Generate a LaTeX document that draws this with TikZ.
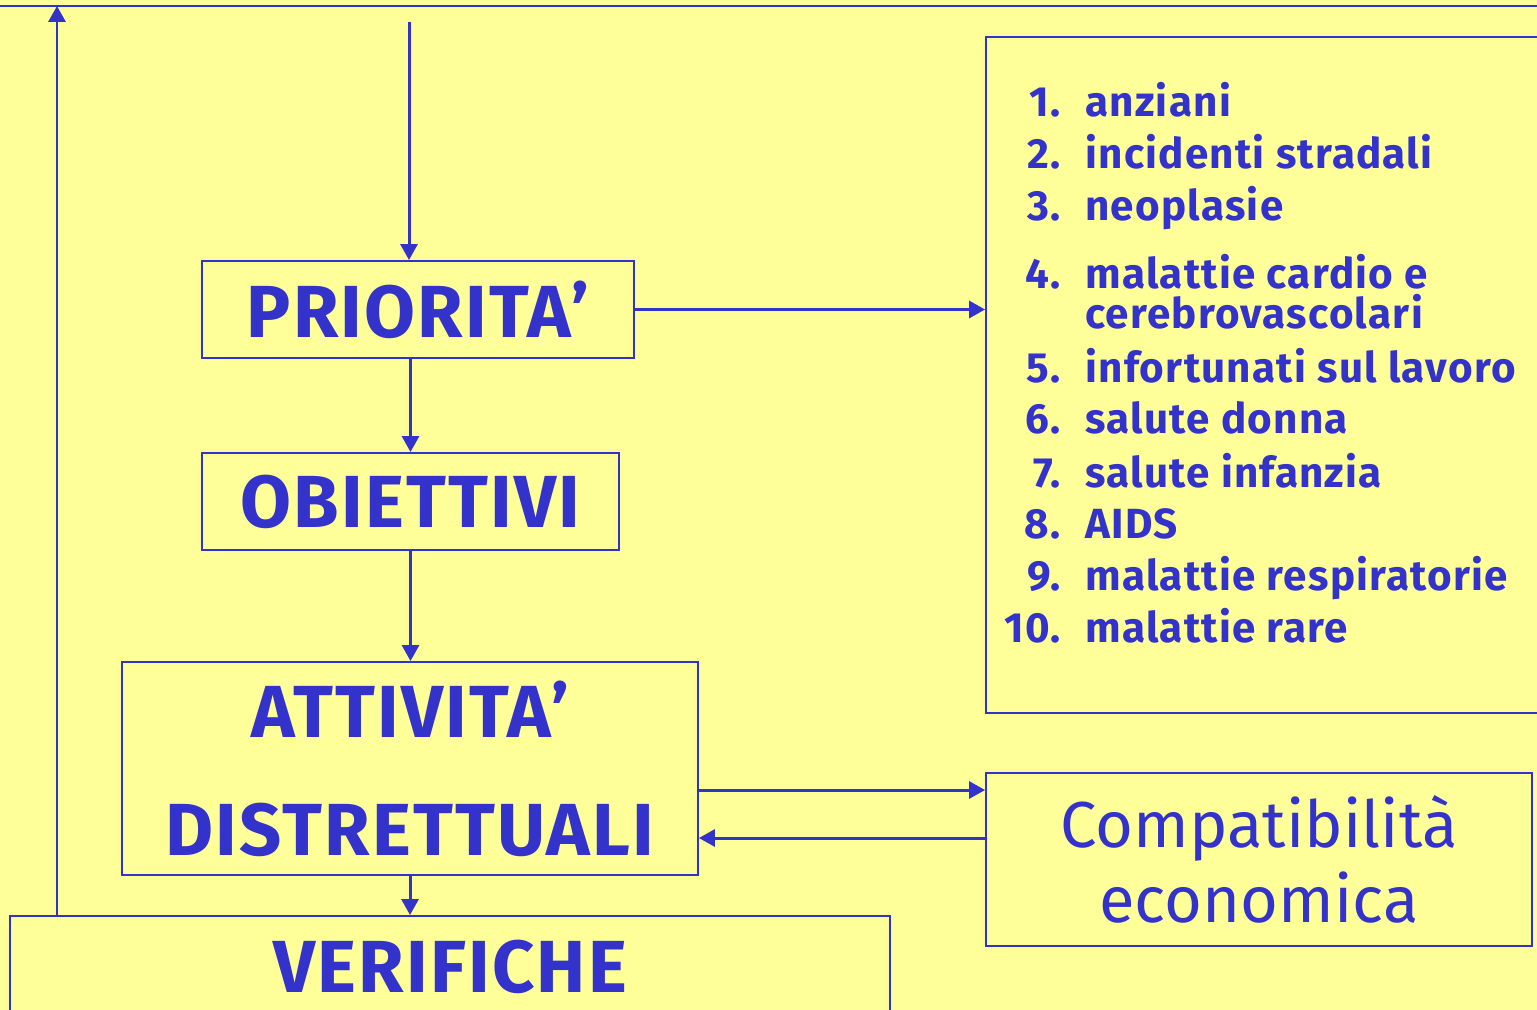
\documentclass[tikz,border=0pt]{standalone}
\usepackage{fontspec}
\setmainfont{Fira Sans}
\usepackage{tikz}
\usetikzlibrary{calc,arrows.meta}
\definecolor{sfondo}{HTML}{FFFF99}
\definecolor{blu}{HTML}{3333CC}
\tikzstyle{linea} = [draw=blu,line width=1.7pt]

\begin{document}
\begin{tikzpicture}[x=0.02cm,y=-0.02cm,
            box/.style = {draw=blu, line width=1.1pt, text=blu, inner sep=0pt, align=center,
              font=\bfseries\fontsize{42}{67}\selectfont\addfontfeature{LetterSpace=3}},
            voce/.style = {anchor=base west, inner sep=0pt, text=blu,
              font=\bfseries\fontsize{24}{28}\selectfont\addfontfeature{LetterSpace=3}},
            freccia/.style = {linea, -{Triangle[length=0.32cm,width=0.34cm]}}]
            \fill[sfondo] (0,0) rectangle (1537,1010);
            \useasboundingbox (0,0) rectangle (1537,1010);
            \node[box, minimum width=8.64cm, minimum height=1.94cm] (prio) at (418,309.5) {PRIORITA'};
            \node[box, minimum width=8.34cm, minimum height=1.94cm] (obie) at (410.5,501.5) {OBIETTIVI};
            \node[box, minimum width=11.52cm, minimum height=4.26cm] (att) at (410,768.5) {ATTIVITA'\\DISTRETTUALI};
            \node[box, minimum width=17.6cm, minimum height=2.04cm] (verif) at (450,967) {VERIFICHE};
            \node[box, minimum width=11.48cm, minimum height=13.52cm] (lista) at (1273,375) {};
            \node[box, font=\fontsize{37}{42.5}\selectfont, minimum width=10.92cm, minimum height=3.46cm] (comp) at (1259,859.5) {Compatibilità\\economica};
            \foreach \i/\yy/\testo in {1/117/anziani, 2/169/incidenti stradali, 3/220/neoplasie,
                4/288/malattie cardio e, 5/382/infortunati sul lavoro, 6/433/salute donna,
                7/487/salute infanzia, 8/538/AIDS, 9/590/malattie respiratorie, 10/642/malattie rare}
              \node[voce] (v\i) at (1085,\yy) {\llap{\i.\hspace{14pt}}\testo};
            \node[voce] (v4b) at (1085,328) {cerebrovascolari};
            \coordinate (bordo1) at (0,6);
            \coordinate (bordo2) at (1537,6);
            \coordinate (ingresso) at (409,22);
            \coordinate (ritorno) at (57,6);
            \coordinate (a1) at ($(att.east)+(0,21.5)$);
            \coordinate (a2) at ($(att.east)+(0,69.5)$);
            \path [linea, line width=1.1pt] (bordo1) -- (bordo2);
            \path [freccia] (ingresso) -- (ingresso |- prio.north);
            \path [freccia] (prio.south -| obie.north) -- (obie.north);
            \path [freccia] (obie.south) -- (obie.south |- att.north);
            \path [freccia] (att.south) -- (att.south |- verif.north);
            \path [freccia] (verif.north -| ritorno) -- (ritorno);
            \path [freccia] (prio.east) -- (prio.east -| lista.west);
            \path [freccia] (a1) -- (a1 -| comp.west);
            \path [freccia] (a2 -| comp.west) -- (a2);
            \end{tikzpicture}
\end{document}
